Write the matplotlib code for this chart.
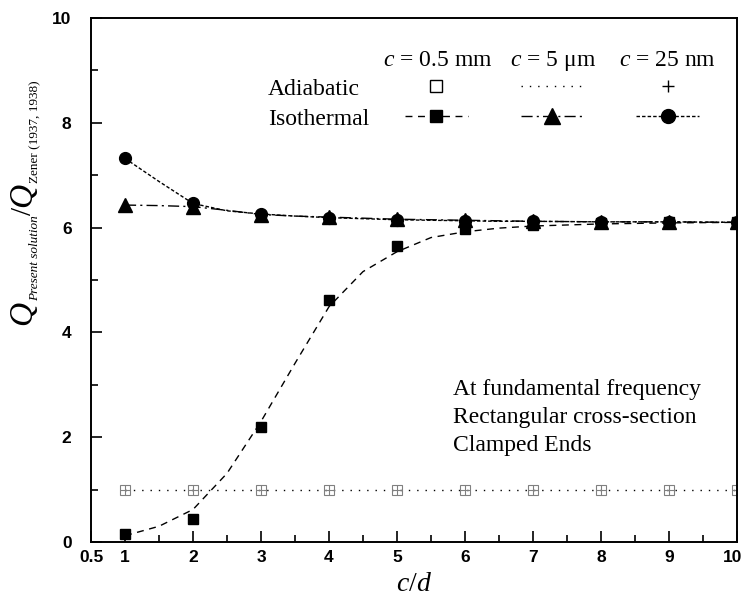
import numpy as np
import matplotlib
matplotlib.use("Agg")
import matplotlib.pyplot as plt
import matplotlib.transforms as mtransforms
from matplotlib.lines import Line2D
from matplotlib.ticker import MultipleLocator

plt.rcParams["font.family"] = "Liberation Serif"
plt.rcParams["mathtext.fontset"] = "custom"
plt.rcParams["mathtext.rm"] = "Liberation Serif"
plt.rcParams["mathtext.it"] = "Liberation Serif:italic"

# c/d values where the models were evaluated
cd = [1, 2, 3, 4, 5, 6, 7, 8, 9, 10]

# adiabatic ratio (same for all three beam sizes)
adiabatic = [1.0, 1.0, 1.0, 1.0, 1.0, 1.0, 1.0, 1.0, 1.0, 1.0]

# isothermal ratios
iso_05mm = [0.15, 0.43, 2.2, 4.62, 5.65, 5.97, 6.05, 6.08, 6.1, 6.1]
iso_5um = [6.43, 6.40, 6.24, 6.20, 6.16, 6.14, 6.12, 6.11, 6.11, 6.10]
iso_25nm = [7.32, 6.46, 6.25, 6.19, 6.15, 6.13, 6.12, 6.11, 6.11, 6.10]

# fitted trend curves
fit_x = [1, 1.5, 2, 2.5, 3, 3.5, 4, 4.5, 5, 5.5, 6, 6.5, 7, 8, 9, 10]
fit_05mm = [0.12, 0.30, 0.62, 1.31, 2.30, 3.41, 4.49, 5.16, 5.54, 5.81, 5.92, 5.99, 6.03, 6.07, 6.09, 6.10]
fit_5um = [6.43, 6.42, 6.40, 6.33, 6.25, 6.22, 6.20, 6.18, 6.16, 6.15, 6.14, 6.13, 6.12, 6.11, 6.11, 6.10]
fit_25nm = [7.32, 6.88, 6.46, 6.32, 6.26, 6.22, 6.19, 6.17, 6.15, 6.14, 6.13, 6.12, 6.12, 6.11, 6.11, 6.10]

ls_05mm = (0, (5, 4))
ls_5um = (0, (8, 3, 1.5, 3))
ls_25nm = (0, (2.5, 1.5))
ls_adiab = (0, (1, 5))

W, H = 745, 607
fig = plt.figure(figsize=(W / 100, H / 100), dpi=100)
ax = fig.add_axes([91 / W, 65 / H, 646 / W, 524 / H])

grey = "#808080"
ax.plot(cd, adiabatic, color="k", lw=1, ls=ls_adiab)
ax.plot(cd, adiabatic, ls="none", marker="s", ms=7, mfc="none", mec=grey, mew=0.8)
ax.plot(cd, adiabatic, ls="none", marker="+", ms=7, mec=grey, mew=0.8)

ax.plot(fit_x, fit_05mm, color="k", lw=1, ls=ls_05mm)
ax.plot(fit_x, fit_5um, color="k", lw=1, ls=ls_5um)
ax.plot(fit_x, fit_25nm, color="k", lw=1, ls=ls_25nm)

ax.plot(cd, iso_25nm, ls="none", marker="o", ms=8.5, color="k")
ax.plot(cd, iso_5um, ls="none", marker="^", ms=9.5, color="k")
ax.plot(cd, iso_05mm, ls="none", marker="s", ms=6.5, color="k")

ax.set_xlim(0.5, 10)
ax.set_ylim(0, 10)
ax.set_xticks([0.5, 1, 2, 3, 4, 5, 6, 7, 8, 9, 10])
ax.set_xticklabels(["0.5", "1", "2", "3", "4", "5", "6", "7", "8", "9", "10"])
ax.xaxis.set_minor_locator(MultipleLocator(0.5))
ax.yaxis.set_major_locator(MultipleLocator(2))
ax.yaxis.set_minor_locator(MultipleLocator(1))
ax.tick_params(which="both", direction="in", width=1.2, top=False, right=False)
ax.tick_params(which="major", length=8)
ax.tick_params(which="minor", length=5)
ax.tick_params(axis="x", pad=6)
ax.tick_params(axis="y", pad=14)
for lab in ax.get_xticklabels() + ax.get_yticklabels():
    lab.set_fontfamily("Liberation Sans")
    lab.set_fontweight("bold")
    lab.set_fontsize(12.5)
# nudge the last x label so it stays inside the figure
last = ax.get_xticklabels()[-1]
last.set_transform(last.get_transform() + mtransforms.ScaledTranslation(-3 / 72, 0, fig.dpi_scale_trans))
for sp in ax.spines.values():
    sp.set_linewidth(1.4)

ax.set_xlabel(r"$c/d$", fontsize=20, labelpad=5)

# legend grid: columns are beam sizes, rows are boundary conditions
handles = [
    Line2D([], [], ls="none", marker="s", ms=8, mfc="none", mec="k", mew=1),
    Line2D([], [], color="k", lw=1, ls=ls_05mm, marker="s", ms=8),
    Line2D([], [], color="k", lw=1, ls=ls_adiab),
    Line2D([], [], color="k", lw=1, ls=ls_5um, marker="^", ms=11),
    Line2D([], [], ls="none", marker="+", ms=9, mec="k", mew=1),
    Line2D([], [], color="k", lw=1, ls=ls_25nm, marker="o", ms=10),
]
ax.legend(handles, [""] * 6, ncol=3, loc="center", bbox_to_anchor=(0.7136, 0.836),
          frameon=False, fontsize=15, handlelength=3.0, handletextpad=0,
          columnspacing=2.55, labelspacing=0.5, borderpad=0, numpoints=1)

head_kw = dict(transform=ax.transAxes, fontsize=17, ha="center", va="center")
ax.text(0.536, 0.918, r"$c$ = 0.5 mm", **head_kw)
ax.text(0.715, 0.918, r"$c$ = 5 μm", **head_kw)
ax.text(0.892, 0.918, r"$c$ = 25 nm", **head_kw)
ax.text(0.274, 0.864, "Adiabatic", transform=ax.transAxes, fontsize=17, va="center")
ax.text(0.274, 0.807, "Isothermal", transform=ax.transAxes, fontsize=17, va="center")

ax.text(0.560, 0.238, "At fundamental frequency\nRectangular cross-section\nClamped Ends",
        transform=ax.transAxes, fontsize=17, va="center", linespacing=1.45)

# y label: large Q with small subscripts, stacked bottom to top
ylabel_parts = [
    ("Q", 24, "italic", 0),
    ("Present solution", 9.5, "italic", 7),
    ("/", 21, "normal", 0),
    ("Q", 24, "italic", 0),
    ("Zener (1937, 1938)", 9.5, "normal", 7),
]
renderer = fig.canvas.get_renderer()
base_x, pos_y = 31, H - 325
for s, size, style, drop in ylabel_parts:
    t = fig.text((base_x + drop) / W, pos_y / H, s, rotation=90, rotation_mode="anchor",
                 ha="left", va="baseline", fontsize=size, style=style)
    bb = t.get_window_extent(renderer)
    pos_y = bb.y1

fig.savefig("out.png", dpi=100)
